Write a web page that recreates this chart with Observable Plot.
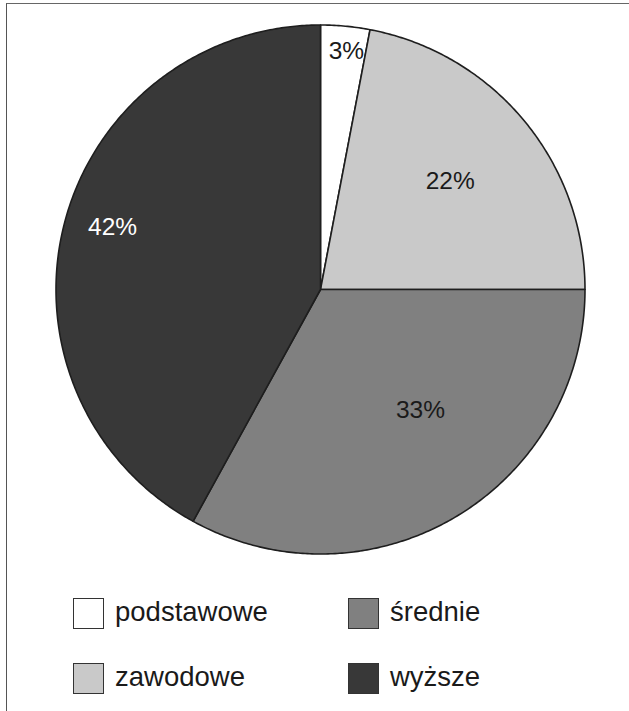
<!DOCTYPE html>
<html lang="pl">
<head>
<meta charset="utf-8">
<script src="https://cdn.jsdelivr.net/npm/d3@7"></script>
<script src="https://cdn.jsdelivr.net/npm/@observablehq/plot@0.6"></script>
<style>
  html, body { margin: 0; padding: 0; background: #fff; overflow: hidden; }
  #page { position: relative; width: 629px; height: 711px; overflow: hidden; background: #fff;
          font-family: "Liberation Sans", Arial, Helvetica, sans-serif; color: #1a1a1a; }
  #frame { position: absolute; left: 6px; top: 3px; width: 640px; height: 720px;
           border-left: 1.5px solid #555; border-top: 1.5px solid #666; pointer-events: none; }
  #chart { position: absolute; left: 0; top: 0; }
  .key { position: absolute; width: 31px; height: 31px; box-sizing: border-box; border: 1.5px solid #333; }
  .name { position: absolute; font-size: 27.5px; line-height: 27.5px; white-space: nowrap; }
</style>
</head>
<body>
<div id="page">
  <div id="chart"></div>
  <div id="legend"></div>
  <div id="frame"></div>
</div>
<script>
// Education level shares (%)
const categories = ["podstawowe", "zawodowe", "średnie", "wyższe"];
const shares = [3, 22, 33, 42];
const valueLabels = ["3%", "22%", "33%", "42%"];
const fills = ["#ffffff", "#c9c9c9", "#808080", "#383838"];

// label placement inside each wedge: fraction of radius and angular nudge (degrees)
const labelRadius = [0.905, 0.638, 0.593, 0.821];
const labelNudge = [0.8, -0.2, -9, 2.4];

const total = d3.sum(shares);
const TAU = 2 * Math.PI;

// Build each wedge as a closed outline in unit-circle coordinates, clockwise from 12 o'clock
const wedgePoints = [];
const labelRows = [];
let acc = 0;
categories.forEach((cat, i) => {
  const a0 = acc / total * TAU;
  acc += shares[i];
  const a1 = acc / total * TAU;
  const steps = Math.max(2, Math.ceil((a1 - a0) / (Math.PI / 360)));
  wedgePoints.push({cat, x: 0, y: 0});
  for (let k = 0; k <= steps; ++k) {
    const a = a0 + (a1 - a0) * k / steps;
    wedgePoints.push({cat, x: Math.sin(a), y: Math.cos(a)});
  }
  wedgePoints.push({cat, x: 0, y: 0});
  const mid = (a0 + a1) / 2 + labelNudge[i] * Math.PI / 180;
  labelRows.push({
    cat,
    text: valueLabels[i],
    x: labelRadius[i] * Math.sin(mid),
    y: labelRadius[i] * Math.cos(mid),
    dark: i === categories.length - 1
  });
});

const chart = Plot.plot({
  width: 629,
  height: 575,
  marginLeft: 55.5,
  marginRight: 44.5,
  marginTop: 24.5,
  marginBottom: 21.5,
  x: {domain: [-1, 1], axis: null},
  y: {domain: [-1, 1], axis: null},
  color: {type: "ordinal", domain: categories, range: fills},
  style: {background: "transparent", fontFamily: "'Liberation Sans', Arial, Helvetica, sans-serif"},
  marks: [
    Plot.line(wedgePoints, {
      x: "x", y: "y", z: "cat", fill: "cat",
      stroke: "#1e1e1e", strokeWidth: 1.6, strokeLinejoin: "round"
    }),
    Plot.text(labelRows.filter(d => !d.dark), {
      x: "x", y: "y", text: "text", fill: "#1a1a1a", fontSize: 24.5
    }),
    Plot.text(labelRows.filter(d => d.dark), {
      x: "x", y: "y", text: "text", fill: "#ffffff", fontSize: 24.5
    })
  ]
});
document.getElementById("chart").appendChild(chart);

// Legend: two columns, two rows
const legend = document.getElementById("legend");
const legendOrder = ["podstawowe", "średnie", "zawodowe", "wyższe"];
const colLeft = [73, 348];
const textLeft = [115, 390];
const rowTop = [598, 663];
legendOrder.forEach((cat, j) => {
  const col = j % 2, row = Math.floor(j / 2);
  const sw = document.createElement("div");
  sw.className = "key";
  sw.style.left = colLeft[col] + "px";
  sw.style.top = rowTop[row] + "px";
  sw.style.background = fills[categories.indexOf(cat)];
  legend.appendChild(sw);
  const t = document.createElement("div");
  t.className = "name";
  t.style.left = textLeft[col] + "px";
  t.style.top = (rowTop[row] - 0.5) + "px";
  t.textContent = cat;
  legend.appendChild(t);
});
</script>
</body>
</html>
